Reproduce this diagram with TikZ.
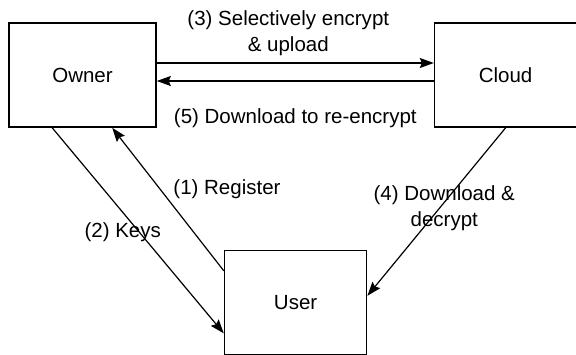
\documentclass[tikz,border=0pt]{standalone}
\usepackage{fontspec}
\setmainfont{Liberation Sans}
\usetikzlibrary{positioning,arrows.meta}

\begin{document}
\begin{tikzpicture}[
box/.style = {draw, line width=0.8pt, minimum width=71pt, minimum height=52pt},
flow/.style = {-{Stealth[length=7pt, width=5pt, inset=1pt]}, line width=0.6pt},
every node/.style = {font=\fontsize{10.25pt}{13pt}\selectfont}
]
\useasboundingbox (0,0) rectangle (288pt,-177pt);
\node [box, minimum width=73.5pt] (owner) at (41.25pt,-37.5pt) {Owner};
\node [box, right = 138.5pt of owner] (cloud) {Cloud};
\node [box, below right = 61pt and 33.5pt of owner] (user) {User};
\draw [flow] ([yshift=6pt]owner.east) -- node [midway, above, xshift=-3.5pt, align=center] {(3) Selectively encrypt\\\& upload} ([yshift=6pt]cloud.west);
\draw [flow] ([yshift=-3pt]cloud.west) -- node [midway, below=10pt] {(5) Download to re-encrypt} ([yshift=-3pt]owner.east);
\draw [flow] ([xshift=22pt]owner.south west) -- node [pos=0.51, xshift=-8.5pt] {(2) Keys} ([yshift=11pt]user.south west);
\draw [flow] ([yshift=-10.5pt]user.north west) -- node [pos=0.57, anchor=west, xshift=3pt] {(1) Register} ([xshift=52pt]owner.south west);
\draw [flow] (cloud.south) -- node [pos=0.48, xshift=2.5pt, align=center] {(4) Download \&\\decrypt} ([yshift=-23pt]user.north east);
\end{tikzpicture}
\end{document}
